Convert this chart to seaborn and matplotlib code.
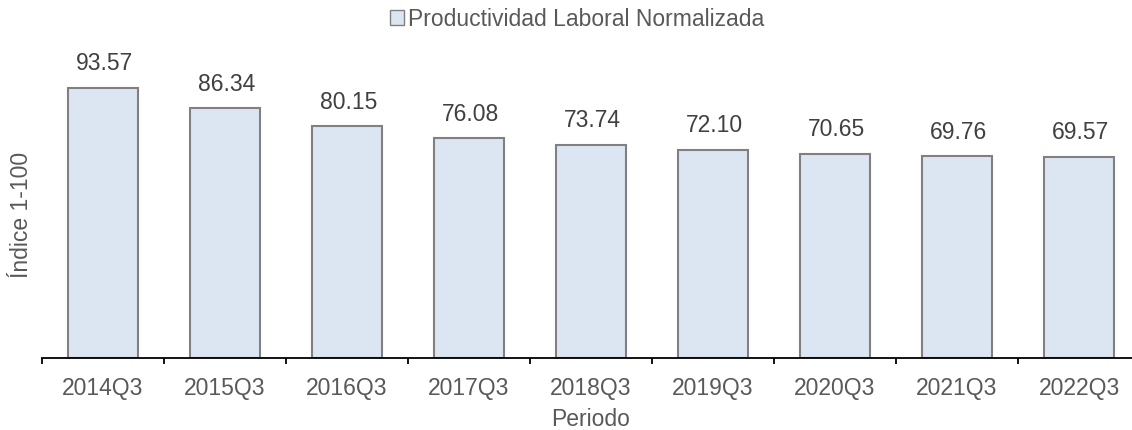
import matplotlib
matplotlib.use("Agg")
import matplotlib.pyplot as plt
import seaborn as sns
import pandas as pd
from matplotlib.patches import Patch

periodos = ["2014Q3", "2015Q3", "2016Q3", "2017Q3", "2018Q3", "2019Q3", "2020Q3", "2021Q3", "2022Q3"]
valores = [93.57, 86.34, 80.15, 76.08, 73.74, 72.10, 70.65, 69.76, 69.57]
serie = "Productividad Laboral Normalizada"

sns.set_theme(style="white")
plt.rcParams["font.family"] = ["Liberation Sans", "DejaVu Sans"]

df = pd.DataFrame({"Periodo": periodos, "Valor": valores})

W, H = 1132, 431
fig = plt.figure(figsize=(W / 100, H / 100), dpi=100)
ax = fig.add_axes([42 / W, 72 / H, 1098 / W, 289 / H])

fill = "#dce6f2"
edge = "#808080"
sns.barplot(data=df, x="Periodo", y="Valor", color=fill, edgecolor=edge,
            linewidth=1.5, width=0.574, saturation=1, ax=ax)

ax.set_ylim(0, 100)
ax.set_xlim(-0.5, len(periodos) - 0.5)

for i, v in enumerate(valores):
    ax.annotate(f"{v:.2f}", xy=(i, v), xytext=(1, 18), textcoords="offset points",
                ha="center", va="center", fontsize=16.5, color="#404040")

for s in ["left", "top", "right"]:
    ax.spines[s].set_visible(False)
ax.spines["bottom"].set_color("black")
ax.spines["bottom"].set_linewidth(1.3)
ax.set_yticks([])

ax.set_xticks(range(len(periodos)))
ax.set_xticklabels(periodos, fontsize=16.5, color="#595959")
ax.set_xticks([i - 0.5 for i in range(len(periodos) + 1)], minor=True)
ax.tick_params(axis="x", which="major", length=0, pad=13)
ax.tick_params(axis="x", which="minor", length=4.3, width=1.3, color="black", direction="out", bottom=True)

ax.set_xlabel("Periodo", fontsize=16.5, color="#595959", labelpad=6)
ax.set_ylabel("Índice 1-100", fontsize=16.5, color="#595959")
ax.yaxis.set_label_coords(-9 / 1098, (359 - 215) / 289)

handle = Patch(facecolor=fill, edgecolor=edge, linewidth=1.0)
fig.legend([handle], [serie], loc="center", bbox_to_anchor=(577 / W, 1 - 20 / H),
           frameon=False, fontsize=16.5, labelcolor="#595959",
           handlelength=0.62, handleheight=0.62, handletextpad=0.15)

fig.savefig("out.png", dpi=100)
